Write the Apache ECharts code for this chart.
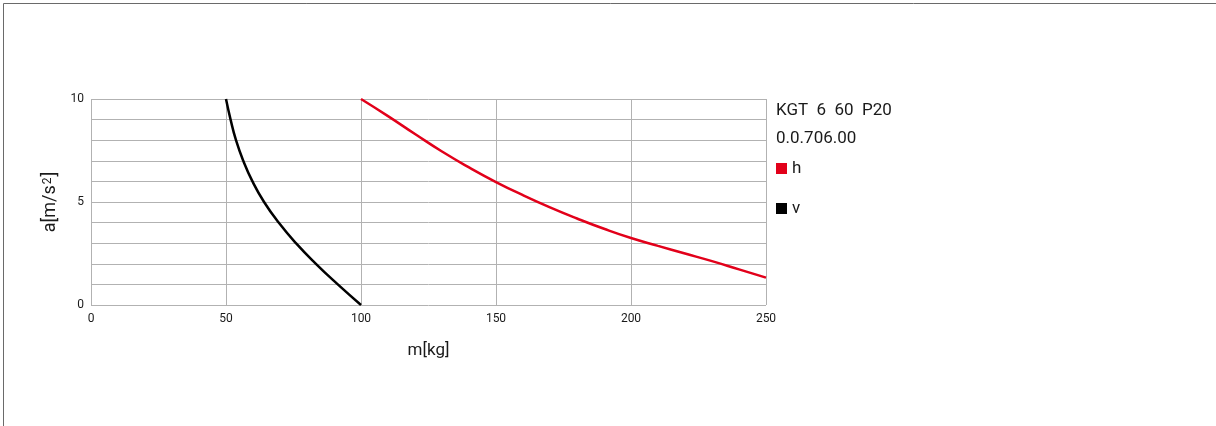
<!DOCTYPE html>
<html>
<head>
<meta charset="utf-8">
<script src="https://cdn.jsdelivr.net/npm/echarts@6/dist/echarts.min.js"></script>
<style>
html,body{margin:0;padding:0;background:#fff;}
#chart{width:1216px;height:426px;}
</style>
</head>
<body>
<div id="chart"></div>
<script>
// Data
const seriesNames = ['h', 'v'];
const hMass = [100, 110, 120, 130, 140, 150, 160, 170, 180, 190, 200, 210, 220, 230, 240, 250];
const hAccel = [10, 9.17, 8.3, 7.45, 6.68, 5.97, 5.33, 4.74, 4.2, 3.7, 3.25, 2.87, 2.5, 2.13, 1.73, 1.33];
const vMass = [50, 51.7, 53.7, 56.4, 59.8, 64.1, 69.5, 75.9, 83.3, 91.4, 100];
const vAccel = [10, 9, 8, 7, 6, 5, 4, 3, 2, 1, 0];
const titleLine1 = 'KGT  6  60  P20';
const titleLine2 = '0.0.706.00';
const xAxisName = 'm[kg]';
const yAxisNameMain = 'a[m/s';
const yAxisNameSup = '2';
const yAxisNameEnd = ']';

const pairs = (xs, ys) => xs.map((x, i) => [x, ys[i]]);

const font = 'Roboto, "DejaVu Sans", sans-serif';
const gridColor = '#b2b2b2';
const textColor = '#1a1a1a';

const chart = echarts.init(document.getElementById('chart'));
chart.setOption({
  animation: false,
  backgroundColor: '#fff',
  textStyle: { fontFamily: font },
  title: {
    text: titleLine1,
    subtext: titleLine2,
    left: 776,
    top: 101,
    itemGap: 9,
    padding: 0,
    textStyle: { fontSize: 17, fontWeight: 'normal', color: textColor, fontFamily: font, lineHeight: 19 },
    subtextStyle: { fontSize: 17, color: textColor, fontFamily: font, lineHeight: 19 }
  },
  legend: {
    data: seriesNames,
    orient: 'vertical',
    left: 776,
    top: 160,
    itemGap: 23,
    itemWidth: 11,
    itemHeight: 11,
    icon: 'rect',
    padding: 0,
    textStyle: { fontSize: 17, color: textColor, fontFamily: font }
  },
  graphic: [{
    type: 'rect',
    shape: { x: 3.5, y: 3.5, width: 1400, height: 600 },
    style: { fill: 'none', stroke: '#6a6a6a', lineWidth: 1 },
    silent: true
  }],
  grid: { left: 91, right: 450, top: 99, bottom: 121, containLabel: false },
  xAxis: {
    type: 'value',
    min: 0, max: 250, interval: 50,
    name: xAxisName,
    nameLocation: 'middle',
    nameGap: 37,
    nameTextStyle: { fontSize: 17, color: textColor, fontFamily: font },
    axisLine: { show: false },
    axisTick: { show: false },
    axisLabel: { fontSize: 12, color: textColor, margin: 8, fontFamily: font },
    splitLine: { show: true, lineStyle: { color: gridColor, width: 1 } }
  },
  yAxis: {
    type: 'value',
    min: 0, max: 10, interval: 5,
    name: '{m|' + yAxisNameMain + '}{s|' + yAxisNameSup + '}{m|' + yAxisNameEnd + '}',
    nameLocation: 'middle',
    nameGap: 31,
    nameRotate: 90,
    nameTextStyle: {
      fontSize: 18, color: textColor, fontFamily: font,
      rich: {
        m: { fontSize: 18, color: textColor, fontFamily: font, letterSpacing: 1 },
        s: { fontSize: 12, color: textColor, fontFamily: font, verticalAlign: 'top', padding: [0, 1, 6, 1] }
      }
    },
    axisLine: { show: false },
    axisTick: { show: false },
    axisLabel: { fontSize: 12, color: textColor, margin: 7, fontFamily: font },
    splitLine: { show: true, lineStyle: { color: gridColor, width: 1 } },
    minorTick: { show: false, splitNumber: 5 },
    minorSplitLine: { show: true, lineStyle: { color: gridColor, width: 1 } }
  },
  series: [
    {
      name: seriesNames[0],
      type: 'line',
      data: pairs(hMass, hAccel),
      smooth: 0.5,
      showSymbol: false,
      symbol: 'none',
      color: '#e2001a',
      lineStyle: { width: 2.5, color: '#e2001a' }
    },
    {
      name: seriesNames[1],
      type: 'line',
      data: pairs(vMass, vAccel),
      smooth: 0.5,
      showSymbol: false,
      symbol: 'none',
      color: '#000000',
      lineStyle: { width: 2.5, color: '#000000' }
    }
  ]
});
</script>
</body>
</html>
